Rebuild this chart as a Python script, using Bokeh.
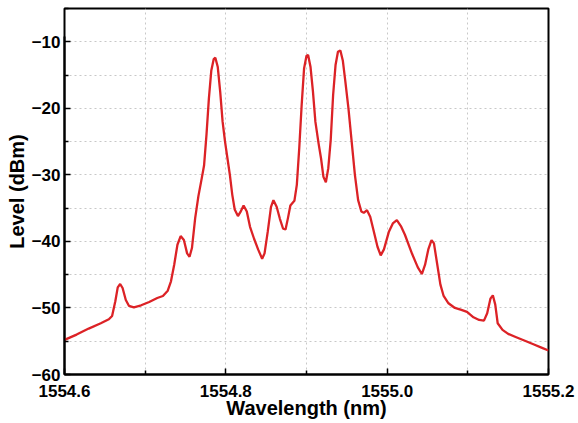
from bokeh.plotting import figure
from bokeh.models import FixedTicker, NumeralTickFormatter, Range1d
from bokeh.embed import file_html
from bokeh.resources import INLINE

wavelength_nm = [
    1554.600, 1554.615, 1554.630, 1554.645, 1554.655, 1554.659, 1554.663, 1554.666,
    1554.669, 1554.672, 1554.676, 1554.680, 1554.686, 1554.695, 1554.705, 1554.715,
    1554.722, 1554.728, 1554.732, 1554.736, 1554.740, 1554.744, 1554.748, 1554.752,
    1554.755, 1554.758, 1554.762, 1554.766, 1554.770, 1554.773, 1554.776, 1554.779,
    1554.782, 1554.785, 1554.787, 1554.790, 1554.793, 1554.796, 1554.799, 1554.802,
    1554.805, 1554.808, 1554.811, 1554.815, 1554.818, 1554.822, 1554.826, 1554.830,
    1554.835, 1554.840, 1554.845, 1554.848, 1554.852, 1554.856, 1554.859, 1554.863,
    1554.867, 1554.871, 1554.874, 1554.877, 1554.880, 1554.885, 1554.888, 1554.891,
    1554.894, 1554.897, 1554.900, 1554.902, 1554.905, 1554.908, 1554.911, 1554.915,
    1554.918, 1554.921, 1554.924, 1554.927, 1554.930, 1554.933, 1554.936, 1554.939,
    1554.942, 1554.945, 1554.948, 1554.952, 1554.956, 1554.960, 1554.964, 1554.968,
    1554.971, 1554.975, 1554.979, 1554.983, 1554.988, 1554.992, 1554.996, 1555.002,
    1555.007, 1555.012, 1555.017, 1555.022, 1555.031, 1555.038, 1555.043, 1555.047,
    1555.051, 1555.055, 1555.058, 1555.062, 1555.066, 1555.070, 1555.076, 1555.084,
    1555.092, 1555.099, 1555.107, 1555.114, 1555.120, 1555.124, 1555.128, 1555.131,
    1555.134, 1555.137, 1555.143, 1555.150, 1555.160, 1555.170, 1555.182, 1555.192,
    1555.200,
]
level_dbm = [
    -54.8, -54.0, -53.1, -52.3, -51.7, -51.2, -49.0, -46.9,
    -46.4, -47.0, -48.8, -49.7, -49.9, -49.6, -49.1, -48.5,
    -48.2, -47.4, -46.0, -43.5, -40.5, -39.2, -39.8, -41.8,
    -42.3, -41.0, -36.5, -33.2, -30.6, -28.6, -24.0, -18.5,
    -14.3, -12.6, -12.4, -13.8, -17.5, -22.0, -25.0, -27.5,
    -30.0, -33.0, -35.2, -36.2, -35.6, -34.6, -35.5, -37.8,
    -39.6, -41.2, -42.6, -41.8, -38.5, -34.8, -33.8, -34.8,
    -36.6, -38.1, -38.2, -36.5, -34.6, -33.9, -31.5, -26.0,
    -19.5, -14.0, -12.1, -12.0, -13.8, -17.5, -22.0, -25.3,
    -27.5, -30.3, -31.1, -29.0, -24.8, -18.0, -13.5, -11.5,
    -11.3, -12.8, -15.8, -20.0, -25.0, -30.0, -33.8, -35.5,
    -35.7, -35.3, -36.3, -38.3, -40.8, -42.1, -41.2, -38.6,
    -37.3, -36.8, -37.7, -39.0, -41.9, -43.9, -44.9, -43.5,
    -41.2, -39.8, -40.3, -43.4, -46.5, -48.2, -49.3, -50.0,
    -50.3, -50.6, -51.4, -51.8, -51.9, -50.8, -48.6, -48.1,
    -49.5, -52.3, -53.3, -53.9, -54.4, -54.9, -55.5, -56.0,
    -56.4,
]

x_major_ticks = [1554.6, 1554.8, 1555.0, 1555.2]
x_minor_ticks = [1554.7, 1554.9, 1555.1]
y_major_ticks = [-60, -50, -40, -30, -20, -10]
y_minor_ticks = [-55, -45, -35, -25, -15, -5]

FONT = "Liberation Sans"

p = figure(width=578, height=423, output_backend="svg", toolbar_location=None,
           x_range=Range1d(1554.6, 1555.2), y_range=Range1d(-60, -5),
           min_border_left=64, min_border_right=30, min_border_top=8,
           min_border_bottom=49)

p.line(wavelength_nm, level_dbm, line_color="#dc2226", line_width=2.3)

p.outline_line_color = "black"
p.outline_line_width = 2
p.outline_line_alpha = 1
p.background_fill_color = "white"
p.border_fill_color = "white"

p.xaxis.ticker = FixedTicker(ticks=x_major_ticks, minor_ticks=x_minor_ticks)
p.yaxis.ticker = FixedTicker(ticks=y_major_ticks, minor_ticks=y_minor_ticks)
p.xaxis.formatter = NumeralTickFormatter(format="0.0")
p.yaxis.bounds = (-60, -9.2)

for ax in (p.xaxis, p.yaxis):
    ax.axis_line_color = "black"
    ax.axis_line_width = 2
    ax.major_tick_line_color = "black"
    ax.major_tick_line_width = 1.5
    ax.minor_tick_line_color = "black"
    ax.minor_tick_line_width = 1.5
    ax.major_tick_in = 6
    ax.major_tick_out = 0
    ax.minor_tick_in = 4
    ax.minor_tick_out = 0
    ax.major_label_text_font = FONT
    ax.major_label_text_font_style = "bold"
    ax.major_label_text_font_size = "17px"
    ax.major_label_text_color = "black"
    ax.axis_label_text_font = FONT
    ax.axis_label_text_font_style = "bold"
    ax.axis_label_text_font_size = "20px"
    ax.axis_label_text_color = "black"

p.xaxis.axis_label = "Wavelength (nm)"
p.yaxis.axis_label = "Level (dBm)"
p.xaxis.major_label_standoff = 10
p.xaxis.axis_label_standoff = -3
p.yaxis.major_label_standoff = 4
p.yaxis.axis_label_standoff = 1

for g in (p.xgrid, p.ygrid):
    g.grid_line_color = "#c8c8c8"
    g.grid_line_dash = "2 3"
    g.grid_line_width = 1
    g.minor_grid_line_color = "#c8c8c8"
    g.minor_grid_line_dash = "2 3"
    g.minor_grid_line_width = 1

p.xgrid.ticker = FixedTicker(ticks=x_major_ticks, minor_ticks=x_minor_ticks)
p.ygrid.ticker = FixedTicker(ticks=y_major_ticks, minor_ticks=y_minor_ticks)

open("out.html", "w").write(file_html(p, INLINE))
